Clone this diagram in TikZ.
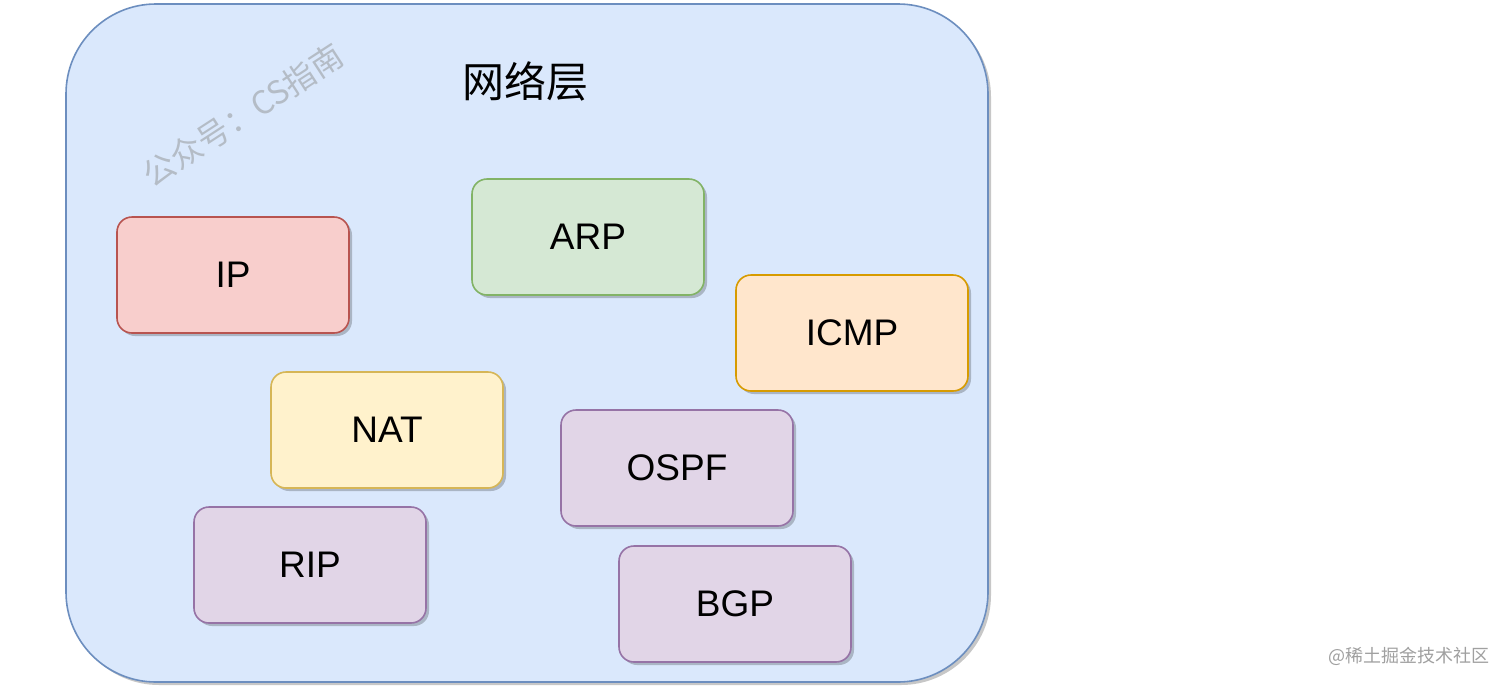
\documentclass[tikz,border=0pt]{standalone}
\usepackage{fontspec}
\setmainfont{Liberation Sans}
\newfontfamily\cjk{Noto Sans CJK SC}
\usetikzlibrary{positioning}
\definecolor{outerfill}{HTML}{DAE8FC}
\definecolor{outerline}{HTML}{6C8EBF}
\definecolor{redfill}{HTML}{F8CECC}
\definecolor{redline}{HTML}{B85450}
\definecolor{greenfill}{HTML}{D5E8D4}
\definecolor{greenline}{HTML}{82B366}
\definecolor{orangefill}{HTML}{FFE6CC}
\definecolor{orangeline}{HTML}{D79B00}
\definecolor{yellowfill}{HTML}{FFF2CC}
\definecolor{yellowline}{HTML}{D6B656}
\definecolor{purplefill}{HTML}{E1D5E7}
\definecolor{purpleline}{HTML}{9673A6}
\definecolor{wmgray}{HTML}{B4BCC6}
\definecolor{credit}{HTML}{A0A0A0}
\tikzset{
  shadowed/.style={preaction={fill=black, opacity=0.22, transform canvas={xshift=3pt,yshift=-3pt}}},
  proto/.style={shadowed, draw=#1line, fill=#1fill, line width=1.6pt, rounded corners=15pt,
    minimum width=232pt, minimum height=116pt, inner sep=0pt, font=\fontsize{37}{40}\selectfont},
}
\begin{document}
\begin{tikzpicture}[x=1pt,y=-1pt]
\useasboundingbox (0,0) rectangle (1512,686);
\fill[white] (0,0) rectangle (1512,686);
% outer layer
\node[shadowed, draw=outerline, fill=outerfill, line width=1.6pt, rounded corners=90pt,
  minimum width=922pt, minimum height=678pt, inner sep=0pt] (layer) at (527,343) {};
\node[font=\cjk\fontsize{42}{46}\selectfont] (title) at (525,81) {网络层};
\node[font=\cjk\fontsize{32}{36}\selectfont, text=wmgray, rotate=33] (wm) at (243,115) {公众号：CS指南};
% protocol boxes
\node[proto=red] (ip) at (233,275) {IP};
\node[proto=green] (arp) at (588,237) {ARP};
\node[proto=orange] (icmp) at (852,333) {ICMP};
\node[proto=yellow] (nat) at (387,430) {NAT};
\node[proto=purple] (ospf) at (677,468) {OSPF};
\node[proto=purple] (rip) at (310,565) {RIP};
\node[proto=purple] (bgp) at (735,604) {BGP};
% credit
\node[font=\cjk\fontsize{18}{20}\selectfont, text=credit, anchor=east] (credit) at (1493,656) {@稀土掘金技术社区};
\end{tikzpicture}
\end{document}
